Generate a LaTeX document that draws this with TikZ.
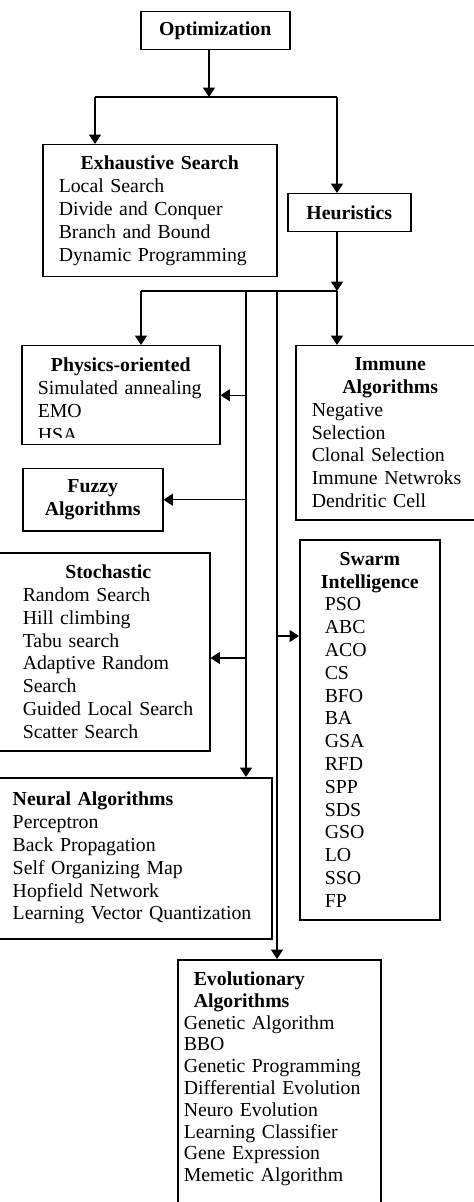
\documentclass[tikz,border=0pt]{standalone}
\usepackage{fontspec}
\setmainfont{Liberation Serif}
\usetikzlibrary{arrows.meta}
\newcommand{\boxhead}[1]{\makebox[\linewidth]{\textbf{#1}}}

\begin{document}
\begin{tikzpicture}[x=0.5pt,y=-0.5pt,
  catbox/.style={rectangle,draw,line width=0.75pt,anchor=north west,align=left,inner ysep=3pt,inner xsep=0pt,font=\fontsize{9.9}{11.4}\selectfont},
  headbox/.style={catbox,align=center,font=\fontsize{9.9}{11.4}\selectfont\bfseries},
  wire/.style={line width=0.6pt},
  feed/.style={wire,-{Triangle[length=4.7pt,width=6pt]}}]
  \useasboundingbox (0,0) rectangle (473,1202);

  \node[headbox,minimum width=74.5pt,minimum height=19pt] (opt) at (140,11) {Optimization};
  \node[catbox,minimum width=117pt,minimum height=66pt,text width=101pt] (exh) at (42,144) {\boxhead{Exhaustive Search}\\Local Search\\Divide and Conquer\\Branch and Bound\\Dynamic Programming};
  \node[headbox,minimum width=61.5pt,minimum height=19pt] (heur) at (287,193) {Heuristics};

  % physics box, last line cut off as in the source
  \node[catbox,minimum width=99pt,minimum height=49.5pt] (phys) at (21,345) {};
  \begin{scope}
    \clip (phys.north west) rectangle ([yshift=3.75pt]phys.south east);
    \node[catbox,draw=none,text width=83pt,inner sep=0pt,font=\fontsize{9.9}{11.6}\selectfont] (physlist) at (37,357) {\boxhead{Physics-oriented}\\Simulated annealing\\EMO\\HSA};
  \end{scope}
  \node[catbox,minimum width=94.5pt,minimum height=87pt,text width=78.5pt] (imm) at (295,345) {\boxhead{Immune}\\\boxhead{Algorithms}\\Negative\\Selection\\Clonal Selection\\Immune Netwroks\\Dendritic Cell};
  \node[headbox,minimum width=70pt,minimum height=31pt] (fuzzy) at (22,468) {Fuzzy\\Algorithms};
  \node[catbox,minimum width=105.5pt,minimum height=99pt,text width=81.5pt] (stoch) at (-2,552) {\makebox[\linewidth]{\hspace*{4pt}\textbf{Stochastic}}\\Random Search\\Hill climbing\\Tabu search\\Adaptive Random\\Search\\\mbox{Guided Local Search}\\Scatter Search};
  \node[catbox,minimum width=70pt,minimum height=190pt,text width=45pt] (swarm) at (299,539) {\boxhead{Swarm}\\\boxhead{Intelligence}\\PSO\\ABC\\ACO\\CS\\BFO\\BA\\GSA\\RFD\\SPP\\SDS\\GSO\\LO\\SSO\\FP};
  \node[catbox,minimum width=137pt,minimum height=80.5pt,text width=122pt] (neur) at (-3,777) {\textbf{Neural Algorithms}\\Perceptron\\Back Propagation\\Self Organizing Map\\Hopfield Network\\Learning Vector Quantization};
  \node[catbox,minimum width=101.5pt,text width=95.5pt,inner ysep=6pt,font=\fontsize{9.9}{10.9}\selectfont] (evo) at (177,959) {\hspace*{5pt}\textbf{Evolutionary}\\\hspace*{5pt}\textbf{Algorithms}\\Genetic Algorithm\\BBO\\Genetic Programming\\Differential Evolution\\Neuro Evolution\\Learning Classifier\\Gene Expression\\Memetic Algorithm\rule[-20pt]{0pt}{20pt}};

  % junction points
  \coordinate (split1) at (209,97);
  \coordinate (toexh) at (95,97);
  \coordinate (toheur) at (337,97);
  \coordinate (split2) at (337,291);
  \coordinate (tophys) at (141,291);
  \coordinate (trunkA) at (246,291);
  \coordinate (trunkB) at (277,291);
  \coordinate (tostoch) at (246,658);
  \coordinate (toswarm) at (277,636);

  \draw[feed] (opt.south -| split1) -- (split1);
  \draw[wire] (toexh) -- (toheur);
  \draw[feed] (toexh) -- (toexh |- exh.north);
  \draw[feed] (toheur) -- (toheur |- heur.north);
  \draw[feed] (toheur |- heur.south) -- (split2);
  \draw[wire] (tophys) -- (split2);
  \draw[feed] (tophys) -- (tophys |- phys.north);
  \draw[feed] (split2) -- (split2 |- imm.north);
  \draw[feed] (trunkA) -- (trunkA |- neur.north);
  \draw[feed] (trunkA |- phys.east) -- (phys.east);
  \draw[feed] (trunkA |- fuzzy.east) -- (fuzzy.east);
  \draw[feed] (tostoch) -- (tostoch -| stoch.east);
  \draw[feed] (trunkB) -- (trunkB |- evo.north);
  \draw[feed] (toswarm) -- (toswarm -| swarm.west);
\end{tikzpicture}
\end{document}
